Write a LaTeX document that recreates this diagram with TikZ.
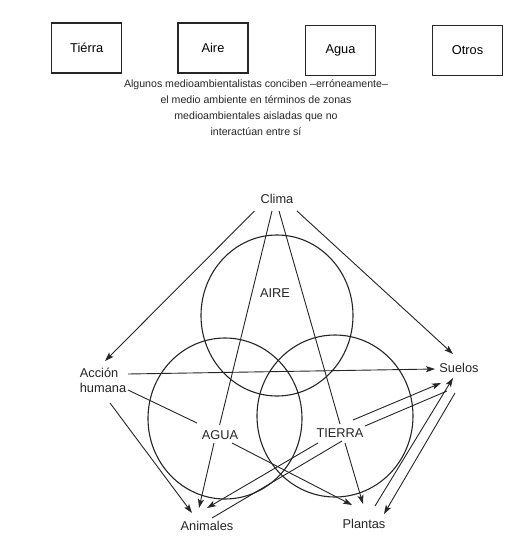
\documentclass[tikz,border=0pt]{standalone}
\usepackage{fontspec}
\setmainfont{Liberation Sans}
\usetikzlibrary{arrows.meta,calc}
\begin{document}
\begin{tikzpicture}[x=1pt,y=-1pt,
  zonebox/.style={draw=black!85,line width=1.5pt,minimum width=70pt,minimum height=50pt,inner sep=0pt,font=\fontsize{12.8}{15}\selectfont},
  lbl/.style={inner sep=0pt,font=\fontsize{12.8}{15}\selectfont,text=black!85},
  conn/.style={draw=black!85,line width=0.9pt},
  arr/.style={conn,-{Stealth[length=9pt,width=6pt,inset=2pt]}},
  ring/.style={draw=black!85,line width=1.1pt}]
\useasboundingbox[fill=white] (0,0) rectangle (530,550);
% top boxes
\node[zonebox] (bt) at (86.7,48) {Tiérra};
\node[zonebox] (ba) at (213,48) {Aire};
\node[zonebox] (bw) at (340.5,50.5) {Agua};
\node[zonebox] (bo) at (467.5,50.5) {Otros};
% caption
\node[lbl,align=center,font=\fontsize{10.6}{16}\selectfont] (cap) at (256,108)
  {Algunos medioambientalistas conciben –erróneamente–\\
   el medio ambiente en términos de zonas\\
   medioambientales aisladas que no\\
   interactúan entre sí};
% circles
\coordinate (cAire) at (277,315.5);
\coordinate (cAgua) at (225,418.5);
\coordinate (cTierra) at (335,416);
\draw[ring] (cAire) ellipse [x radius=76, y radius=80.5];
\draw[ring] (cAgua) ellipse [x radius=77, y radius=80.5];
\draw[ring] (cTierra) ellipse [x radius=78, y radius=81];
% labels
\node[lbl] (clima) at (277,199) {Clima};
\node[lbl,align=left] (accion) at (103,380.5) {Acción\\humana};
\node[lbl] (suelos) at (459,368) {Suelos};
\node[lbl] (animales) at (207,526) {Animales};
\node[lbl] (plantas) at (364,524) {Plantas};
\node[lbl] (aire) at (275,293) {AIRE};
\node[lbl] (agua) at (220,435) {AGUA};
\node[lbl] (tierra) at (340,433) {TIERRA};
% connectors
\draw[arr] ($(clima)+(-22.5,12)$) -- ($(accion)+(2,-19.5)$);
\draw[arr] ($(clima)+(20,12)$) -- ($(suelos)+(-6,-14)$);
\draw[conn] ($(clima)+(-5,12)$) -- ($(agua)+(-0.4,-10)$);
\draw[arr] ($(agua)+(-6,8)$) -- ($(animales)+(-8,-18)$);
\draw[conn] ($(clima)+(2,12)$) -- ($(tierra)+(0,-9)$);
\draw[arr] ($(tierra)+(5,10)$) -- ($(plantas)+(-1,-20)$);
\draw[arr] ($(accion)+(25,-6.5)$) -- ($(suelos)+(-24,1)$);
\draw[conn] ($(accion)+(25,9.5)$) -- ($(agua)+(-23,-12)$);
\draw[arr] ($(agua)+(12,8)$) -- ($(plantas)+(-12,-19)$);
\draw[arr] ($(accion)+(7,22.5)$) -- ($(animales)+(-15,-13)$);
\draw[arr] ($(tierra)+(13,-13)$) -- ($(suelos)+(-18,15)$);
\draw[conn] ($(tierra)+(25,-7)$) -- ($(suelos)+(-12,23)$);
\draw[arr] ($(plantas)+(11,-18)$) -- ($(suelos)+(-6,10)$);
\draw[arr] ($(suelos)+(-4,25)$) -- ($(plantas)+(20,-10)$);
\draw[arr] ($(tierra)+(-22,10)$) -- ($(animales)+(0,-18)$);
\draw[conn] ($(animales)+(5,-8)$) -- ($(tierra)+(2,8)$);
\end{tikzpicture}
\end{document}
